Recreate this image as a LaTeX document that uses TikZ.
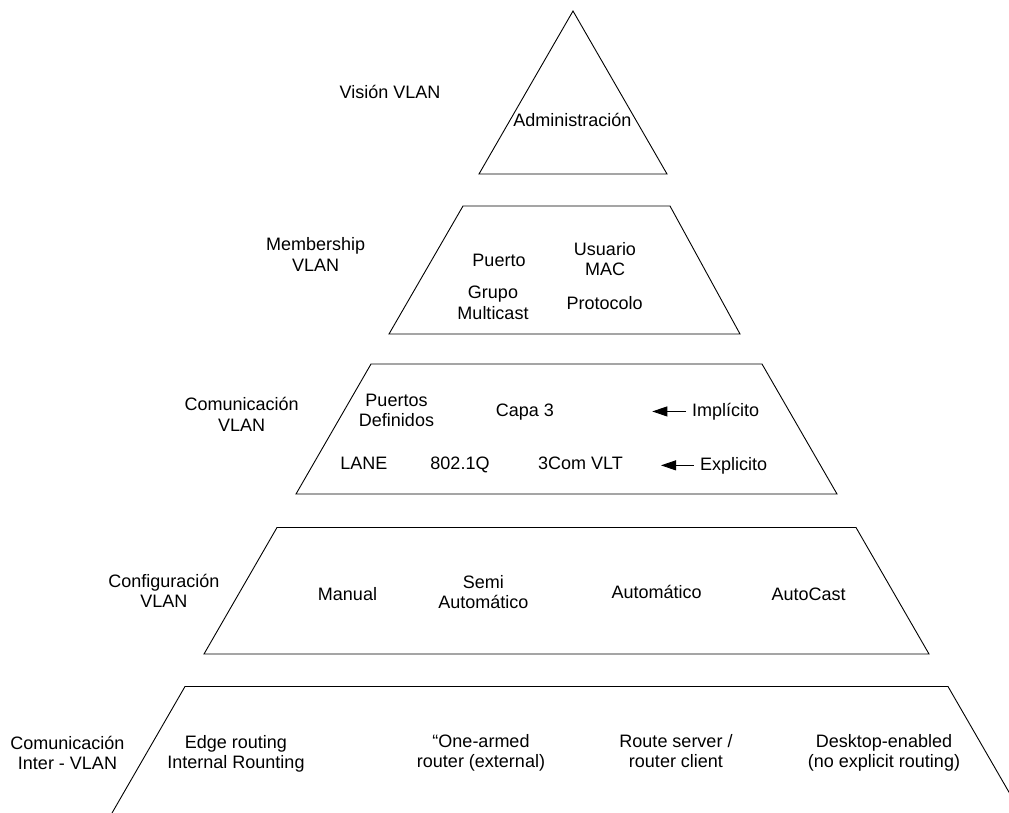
\documentclass[tikz,border=0pt]{standalone}
\usepackage{fontspec}
\setmainfont{Liberation Sans}
\usetikzlibrary{arrows.meta}
% two centred lines, baseline on the first one
\newcommand\stackedtext[2]{\begin{tabular}[t]{@{}c@{}}#1\\#2\end{tabular}}
\begin{document}
\begin{tikzpicture}[x=1pt,y=-1pt,
  layer/.style={draw=black,line width=0.9pt,line join=miter},
  lbl/.style={anchor=base,inner sep=0pt,font=\fontsize{18}{20.6}\selectfont},
  pointer/.style={-{Triangle[length=15pt,width=10pt]},line width=0.9pt,shorten <=6pt}]
\useasboundingbox (0,0) rectangle (1009,812);

% pyramid levels
\draw[layer] (573,11) -- (667,174) -- (479,174) -- cycle;
\draw[layer] (463,206) -- (670,206) -- (740,334) -- (389,334) -- cycle;
\draw[layer] (371,364) -- (762,364) -- (837,494) -- (296,494) -- cycle;
\draw[layer] (277,527.5) -- (856,527.5) -- (929,654) -- (204,654) -- cycle;
\begin{scope}
  \clip (0,0) rectangle (1009,812);
  \draw[layer] (112,813) -- (185,686.5) -- (948,686.5) -- (1021,813);
\end{scope}

% level names
\node[lbl] (vision) at (390,98.5) {Visión VLAN};
\node[lbl] (member) at (315.7,250.5) {\stackedtext{Membership}{VLAN}};
\node[lbl] (comm) at (241.7,410.7) {\stackedtext{Comunicación}{VLAN}};
\node[lbl] (config) at (163.8,587.3) {\stackedtext{Configuración}{VLAN}};
\node[lbl] (inter) at (67.5,749) {\stackedtext{Comunicación}{Inter - VLAN}};

% apex
\node[lbl] (admin) at (572.3,126.2) {Administración};

% membership
\node[lbl] (puerto) at (499,266.2) {Puerto};
\node[lbl] (usuario) at (605,255.2) {\stackedtext{Usuario}{MAC}};
\node[lbl] (grupo) at (493,298.6) {\stackedtext{Grupo}{Multicast}};
\node[lbl] (proto) at (604.7,309.6) {Protocolo};

% communication
\node[lbl] (puertos) at (396.5,406.2) {\stackedtext{Puertos}{Definidos}};
\node[lbl] (capa) at (525,416.2) {Capa 3};
\node[lbl] (impl) at (725.7,416.2) {Implícito};
\node[lbl] (lane) at (363.8,469.6) {LANE};
\node[lbl] (dot1q) at (460,469.6) {802.1Q};
\node[lbl] (vlt) at (580.5,469.6) {3Com VLT};
\node[lbl] (expl) at (733.7,470) {Explicito};
\coordinate (tipA) at (652.3,410.7);
\coordinate (tipB) at (661,464);
\draw[pointer] (impl.west) -- (impl.west -| tipA);
\draw[pointer] (expl.west) -- (expl.west -| tipB);

% configuration
\node[lbl] (manual) at (347.5,600.2) {Manual};
\node[lbl] (semi) at (483.3,588) {\stackedtext{Semi}{Automático}};
\node[lbl] (auto) at (656.7,598.6) {Automático};
\node[lbl] (autocast) at (808.7,600) {AutoCast};

% inter-VLAN communication
\node[lbl] (edge) at (236,748) {\stackedtext{Edge routing}{Internal Rounting}};
\node[lbl] (onearm) at (481,747) {\stackedtext{“One-armed}{router (external)}};
\node[lbl] (rserver) at (676,747) {\stackedtext{Route server /}{router client}};
\node[lbl] (desktop) at (884,747) {\stackedtext{Desktop-enabled}{(no explicit routing)}};
\end{tikzpicture}
\end{document}
